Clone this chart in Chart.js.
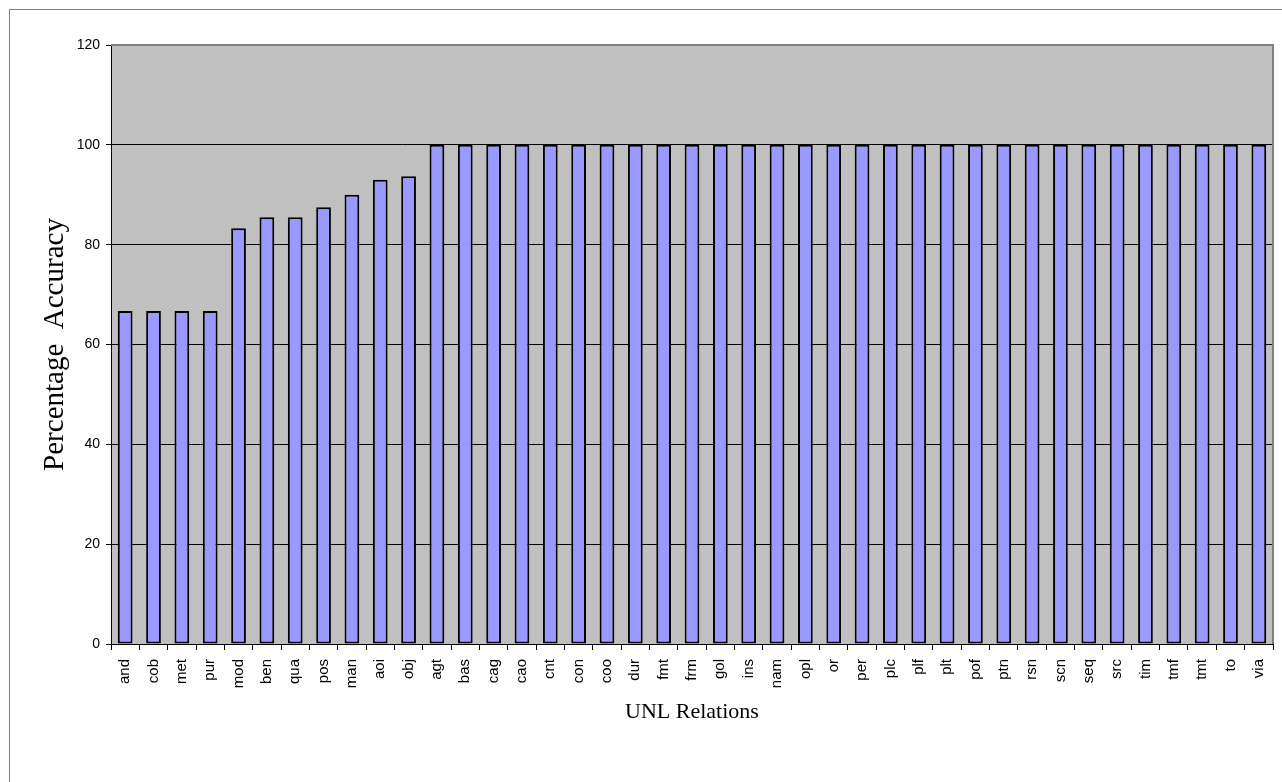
<!DOCTYPE html>
<html>
<head>
<meta charset="utf-8">
<script src="https://cdn.jsdelivr.net/npm/chart.js@4/dist/chart.umd.min.js"></script>
<style>
  body { margin: 0; background: #fff; }
  canvas { display: block; }
</style>
</head>
<body>
<canvas id="chart" width="1282" height="782"></canvas>
<script>
const relations = [
  "and", "cob", "met", "pur", "mod", "ben", "qua", "pos", "man", "aoi", "obj",
  "agt", "bas", "cag", "cao", "cnt", "con", "coo", "dur", "fmt", "frm", "gol",
  "ins", "nam", "opl", "or", "per", "plc", "plf", "plt", "pof", "ptn", "rsn",
  "scn", "seq", "src", "tim", "tmf", "tmt", "to", "via"
];
const accuracy = [
  66.7, 66.7, 66.7, 66.7, 83.3, 85.5, 85.5, 87.5, 90, 93, 93.7,
  100, 100, 100, 100, 100, 100, 100, 100, 100, 100, 100,
  100, 100, 100, 100, 100, 100, 100, 100, 100, 100, 100,
  100, 100, 100, 100, 100, 100, 100, 100
];
const yTicks = [0, 20, 40, 60, 80, 100, 120];

// grey plot area + frame round the whole chart
const plotBackground = {
  id: "plotBackground",
  beforeDraw(chart) {
    const { ctx, chartArea } = chart;
    ctx.save();
    ctx.strokeStyle = "#808080";
    ctx.lineWidth = 1;
    ctx.strokeRect(9.5, 9.5, 1300, 800);
    ctx.fillStyle = "#c0c0c0";
    ctx.fillRect(chartArea.left, chartArea.top, chartArea.width, chartArea.height);
    ctx.restore();
  },
  afterDatasetsDraw(chart) {
    const { ctx, chartArea } = chart;
    ctx.save();
    ctx.strokeStyle = "#808080";
    ctx.lineWidth = 2;
    ctx.beginPath();
    ctx.moveTo(chartArea.left, chartArea.top);
    ctx.lineTo(chartArea.right, chartArea.top);
    ctx.lineTo(chartArea.right, chartArea.bottom);
    ctx.stroke();
    ctx.restore();
  }
};

new Chart(document.getElementById("chart"), {
  type: "bar",
  data: {
    labels: relations,
    datasets: [{
      data: accuracy,
      backgroundColor: "#9999ff",
      borderColor: "#000000",
      borderWidth: 2,
      borderSkipped: false,
      barPercentage: 0.52,
      categoryPercentage: 1.0
    }]
  },
  options: {
    responsive: false,
    animation: false,
    layout: { padding: { left: 38, top: 45, right: 9, bottom: 57 } },
    plugins: {
      legend: { display: false },
      tooltip: { enabled: false }
    },
    scales: {
      x: {
        grid: {
          offset: true,
          drawOnChartArea: false,
          color: "#000",
          tickLength: 6
        },
        border: { color: "#000", width: 1 },
        ticks: {
          minRotation: 90,
          maxRotation: 90,
          autoSkip: false,
          padding: 9,
          color: "#000",
          font: { family: "Liberation Sans, Arial", size: 15 }
        },
        title: {
          display: true,
          text: "UNL Relations",
          color: "#000",
          font: { family: "Liberation Serif, Times New Roman", size: 22 },
          padding: { top: 8, bottom: 0 }
        },
        afterFit(scale) {
          scale.height = 81;
          scale.paddingLeft = 0;
          scale.paddingRight = 0;
        }
      },
      y: {
        min: 0,
        max: 120,
        afterBuildTicks(scale) { scale.ticks = yTicks.map(v => ({ value: v })); },
        grid: {
          color: ctx => (ctx.tick && ctx.tick.value === 120 ? "rgba(0,0,0,0)" : "#000"),
          tickColor: "#000",
          tickLength: 5
        },
        border: { color: "#000", width: 1 },
        ticks: {
          padding: 6,
          color: "#000",
          font: { family: "Liberation Sans, Arial", size: 14 }
        },
        title: {
          display: true,
          text: "Percentage  Accuracy",
          color: "#000",
          font: { family: "Liberation Serif, Times New Roman", size: 29 },
          padding: { top: 0, bottom: 0 }
        },
        afterFit(scale) { scale.width = 73; }
      }
    }
  },
  plugins: [plotBackground]
});
</script>
</body>
</html>
